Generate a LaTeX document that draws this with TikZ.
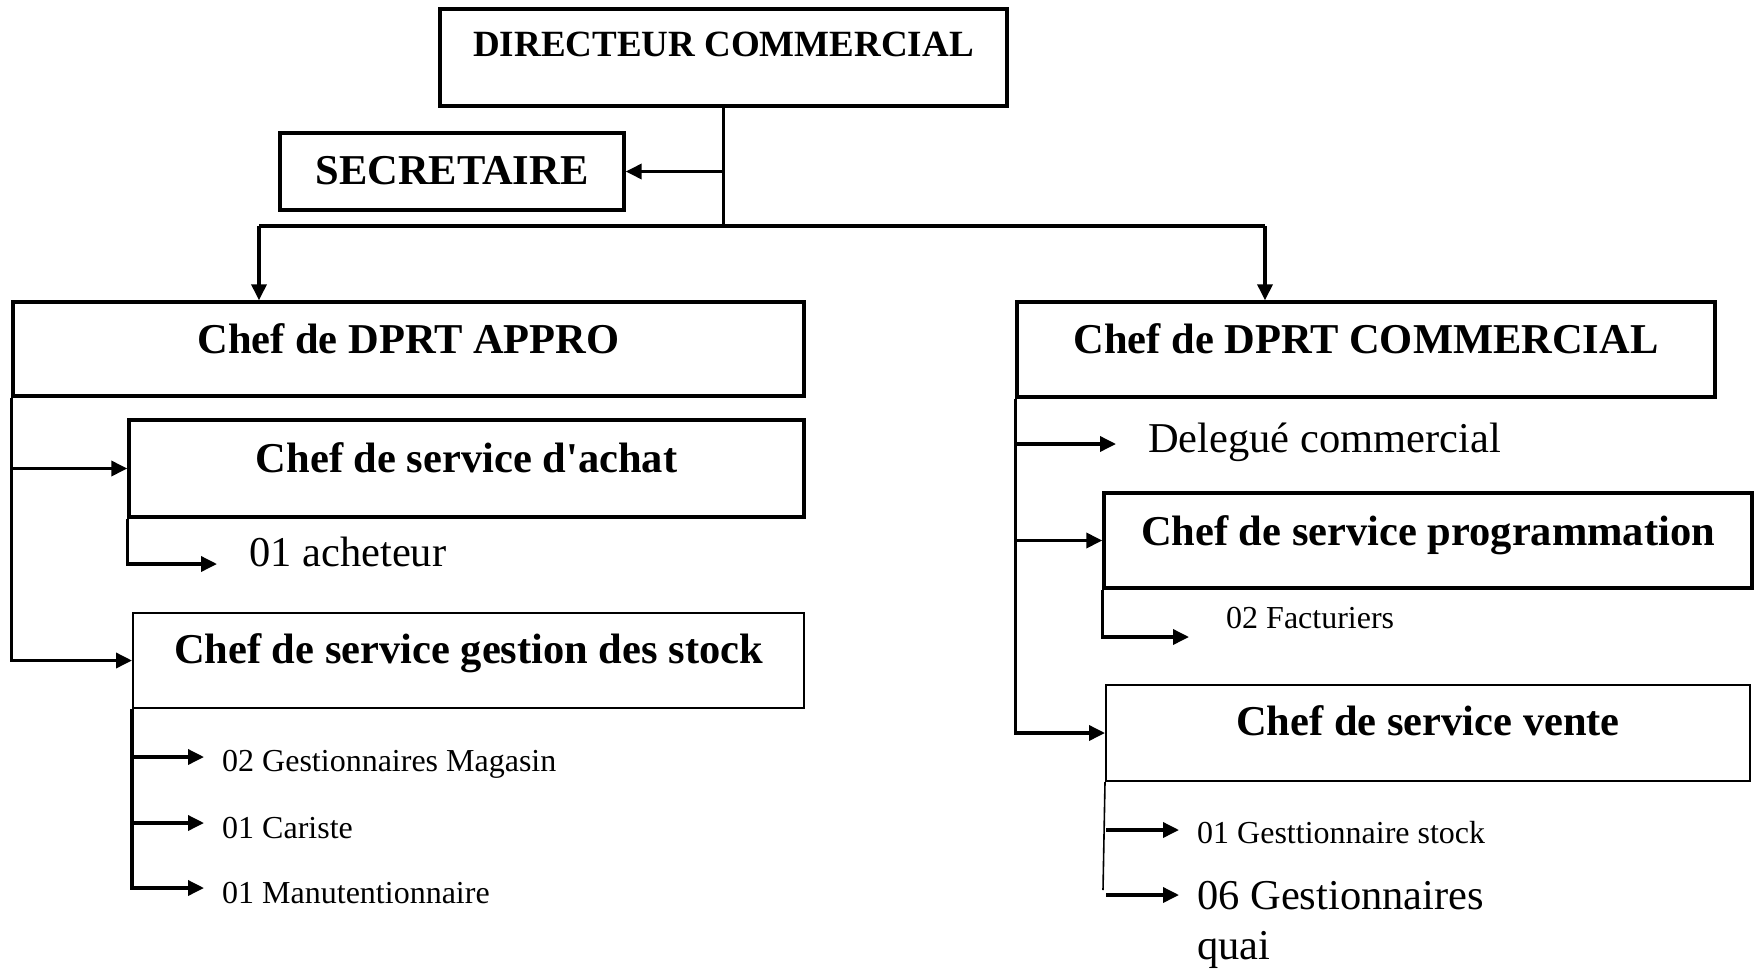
\documentclass[tikz,border=0pt]{standalone}
\usepackage{fontspec}
\setmainfont{Liberation Serif}
\usetikzlibrary{arrows.meta}
\begin{document}
\begin{tikzpicture}[x=1pt,y=-1pt,
  box/.style={draw, line width=3.4pt, inner sep=0pt},
  thinbox/.style={draw, line width=2pt, inner sep=0pt},
  con/.style={line width=3.5pt},
  arr/.style={con, -{Triangle[length=16pt,width=15pt]}},
  bigb/.style={font=\fontsize{42.5}{49}\selectfont\bfseries, inner sep=0pt, anchor=base},
  dirt/.style={font=\fontsize{37}{44}\selectfont\bfseries, inner sep=0pt, anchor=base},
  regt/.style={font=\fontsize{42.5}{49}\selectfont, inner sep=0pt, anchor=base west},
  smallt/.style={font=\fontsize{32}{38}\selectfont, inner sep=0pt, anchor=base west},
]
\useasboundingbox (0,0) rectangle (1761,969);

% boxes
\node[box, minimum width=567pt, minimum height=97pt] (dir) at (723.5,57.5) {};
\node[box, minimum width=344pt, minimum height=77pt] (sec) at (452,171.5) {};
\node[box, minimum width=791pt, minimum height=94pt] (appro) at (408.5,349) {};
\node[box, minimum width=698pt, minimum height=95pt] (comm) at (1366,349.5) {};
\node[box, minimum width=675pt, minimum height=97pt] (achat) at (466.5,468.5) {};
\node[thinbox, minimum width=671pt, minimum height=95pt] (gest) at (468.5,660.5) {};
\node[box, minimum width=648pt, minimum height=95pt] (prog) at (1428,540.5) {};
\node[thinbox, minimum width=644pt, minimum height=96pt] (vente) at (1428,733) {};

% box texts
\node[dirt] (tdir) at (723.5,56) {DIRECTEUR COMMERCIAL};
\node[bigb] (tsec) at (452,184) {SECRETAIRE};
\node[bigb] (tappro) at (408.5,353) {Chef de DPRT APPRO};
\node[bigb] (tcomm) at (1366,353) {Chef de DPRT COMMERCIAL};
\node[bigb] (tachat) at (466.5,472) {Chef de service d\textquotesingle achat};
\node[bigb] (tgest) at (468.5,663) {Chef de service gestion des stock};
\node[bigb] (tprog) at (1428,545) {Chef de service programmation};
\node[bigb] (tvente) at (1428,735) {Chef de service vente};

% top connectors
\coordinate (jt) at (723.5,226);
\coordinate (jl) at (259,226);
\coordinate (jr) at (1265,226);
\draw[con] (dir.south) -- (jt);
\draw[arr] (dir.south |- sec.east) -- (sec.east);
\draw[con] (jl) -- (jr);
\draw[arr] (jl) -- (jl |- appro.north);
\draw[arr] (jr) -- (jr |- comm.north);

% left trunk
\draw[arr] (appro.south west) -- (appro.south west |- gest.west) -- (gest.west);
\draw[arr] (appro.south west |- achat.west) -- (achat.west);

% achat sub
\coordinate (a1) at (217,564);
\draw[arr] (achat.south west) -- (achat.south west |- a1) -- (a1);
\node[regt] (tach) at (249,566) {01 acheteur};

% gest sub
\coordinate (g1) at (204,757);
\coordinate (g2) at (204,823);
\coordinate (g3) at (204,888);
\draw[arr] (gest.south west) -- (gest.south west |- g3) -- (g3);
\draw[arr] (gest.south west |- g1) -- (g1);
\draw[arr] (gest.south west |- g2) -- (g2);
\node[smallt] (tg1) at (222,771) {02 Gestionnaires Magasin};
\node[smallt] (tg2) at (222,838) {01 Cariste};
\node[smallt] (tg3) at (222,903) {01 Manutentionnaire};

% right trunk
\coordinate (d1) at (1116,444);
\draw[arr] (comm.south west) -- (comm.south west |- vente.west) -- (vente.west);
\draw[arr] (comm.south west |- d1) -- (d1);
\draw[arr] (comm.south west |- prog.west) -- (prog.west);
\node[regt] (tdel) at (1148,452) {Delegué commercial};

% prog sub
\coordinate (f1) at (1189,637);
\draw[arr] (prog.south west) -- (prog.south west |- f1) -- (f1);
\node[smallt] (tfac) at (1226,628) {02 Facturiers};

% vente sub
\coordinate (vb) at (1103,890);
\coordinate (v1s) at (1106,830);
\coordinate (v1) at (1179,830);
\coordinate (v2s) at (1106,895);
\coordinate (v2) at (1179,895);
\draw[line width=1.6pt] (vente.south west) -- (vb);
\draw[arr] (v1s) -- (v1);
\draw[arr] (v2s) -- (v2);
\node[smallt] (tv1) at (1197,843) {01 Gesttionnaire stock};
\node[regt] (tv2) at (1197,909) {06 Gestionnaires};
\node[regt] (tv3) at (1197,959) {quai};
\end{tikzpicture}
\end{document}
